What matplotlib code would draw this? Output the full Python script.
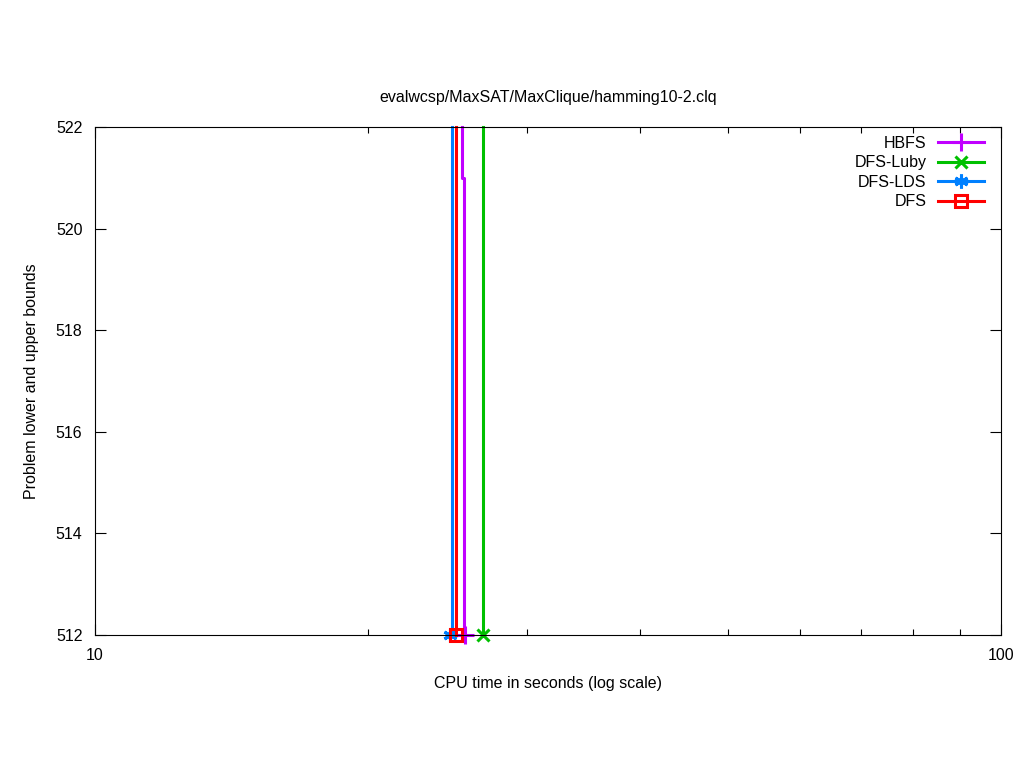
import matplotlib
matplotlib.use('Agg')
import matplotlib.pyplot as plt
from matplotlib.ticker import LogLocator, NullFormatter, FixedLocator

plt.rcParams['font.family'] = ['Liberation Sans', 'DejaVu Sans']
plt.rcParams['font.size'] = 11.5

title = 'evalwcsp/MaxSAT/MaxClique/hamming10-2.clq'

# upper bound step curves (time, bound)
hbfs_t = [25.42, 25.42, 25.55, 25.55]
hbfs_ub = [522, 521, 521, 512]
luby_t = [26.81, 26.81]
luby_ub = [522, 512]
lds_t = [24.78, 24.78]
lds_ub = [522, 512]
dfs_t = [25.03, 25.03]
dfs_ub = [522, 512]

# final points (marker)
hbfs_end = (25.62, 512)
luby_end = (26.81, 512)
lds_end = (24.65, 512)
dfs_end = (25.0, 512)

fig = plt.figure(figsize=(10.24, 7.68), dpi=100)
ax = fig.add_axes([95 / 1024, 1 - 635 / 768, 906 / 1024, 508 / 768])

lw = 2.2
series = [
    ('HBFS', hbfs_t, hbfs_ub, hbfs_end, '#c000ff', '+', 13, 'full'),
    ('DFS-Luby', luby_t, luby_ub, luby_end, '#00c000', 'x', 9, 'full'),
    ('DFS-LDS', lds_t, lds_ub, lds_end, '#0080ff', (6, 2, 0), 10, 'full'),
    ('DFS', dfs_t, dfs_ub, dfs_end, '#ff0000', 's', 9, 'none'),
]
for name, t, ub, end, col, mk, ms, fill in series:
    ax.plot(t, ub, color=col, lw=lw, clip_on=False)
    ax.plot([end[0]], [end[1]], color=col, marker=mk, ms=ms, mew=2.2,
            fillstyle=fill, ls='none', clip_on=False)
    ax.plot([], [], color=col, lw=lw, marker=mk, ms=ms, mew=2.2,
            fillstyle=fill, label=name)

ax.set_xscale('log')
ax.set_xlim(10, 100)
ax.set_ylim(512, 522)
ax.yaxis.set_major_locator(FixedLocator([512, 514, 516, 518, 520, 522]))
ax.xaxis.set_major_locator(FixedLocator([10, 100]))
ax.xaxis.set_major_formatter(matplotlib.ticker.FuncFormatter(lambda v, p: '%d' % v))
ax.xaxis.set_minor_locator(LogLocator(base=10, subs=range(2, 10)))
ax.xaxis.set_minor_formatter(NullFormatter())
ax.tick_params(which='both', direction='in', top=True, right=True)
ax.tick_params(which='major', length=8, width=0.8, pad=9)
ax.tick_params(which='minor', length=4, width=0.8)

ax.set_title(title, fontsize=11.5, pad=18)
ax.set_xlabel('CPU time in seconds (log scale)', labelpad=10)
ax.set_ylabel('Problem lower and upper bounds', labelpad=12)

leg = ax.legend(loc='upper right', bbox_to_anchor=(1 - 8 / 906, 1),
                frameon=False, markerfirst=False,
                handlelength=2.9, labelspacing=0.28, borderaxespad=0.3,
                handletextpad=0.7, borderpad=0.25)

fig.savefig('out.png', dpi=100)
